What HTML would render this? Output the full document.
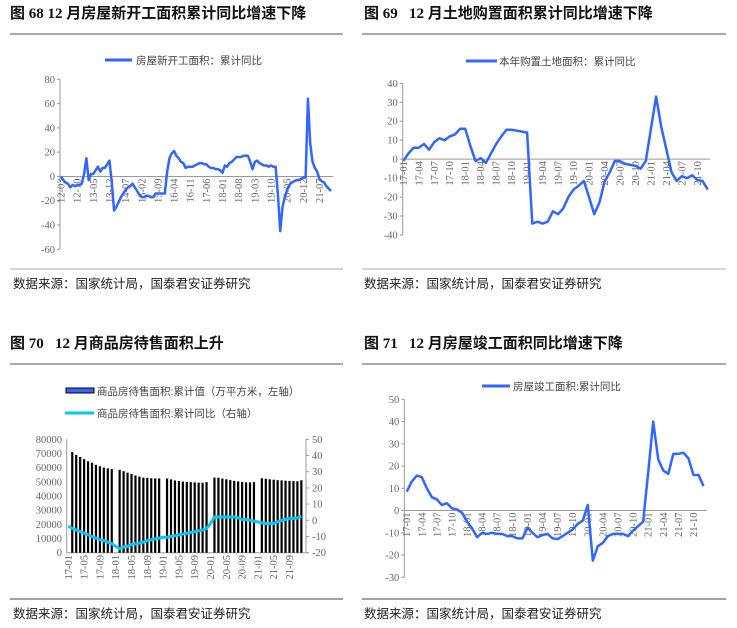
<!DOCTYPE html>
<html><head><meta charset="utf-8"><style>
body{margin:0;background:#fff;width:737px;height:628px;overflow:hidden}
svg{display:block}
.t{font-family:"Liberation Serif","Noto Sans CJK SC",serif;font-weight:bold;font-size:15px;fill:#111}
.s{font-family:"Liberation Sans","Noto Sans CJK SC",sans-serif;font-size:12.5px;fill:#222}
.k{font-family:"Liberation Serif",serif;font-size:10.5px;fill:#666}
.lg{font-family:"Liberation Sans","Noto Sans CJK SC",sans-serif;font-size:10.5px;fill:#444}
</style></head><body>
<svg id="c" width="737" height="628" xmlns="http://www.w3.org/2000/svg">
<text class="t" x="10" y="18">图 68 12 月房屋新开工面积累计同比增速下降</text>
<text class="t" x="364" y="18">图 69 &#160;&#160;12 月土地购置面积累计同比增速下降</text>
<text class="t" x="10" y="348">图 70 &#160;&#160;12 月商品房待售面积上升</text>
<text class="t" x="364" y="348">图 71 &#160;&#160;12 月房屋竣工面积同比增速下降</text>
<line x1="10" y1="34" x2="343" y2="34" stroke="#555"/>
<line x1="362" y1="34" x2="726" y2="34" stroke="#555"/>
<line x1="10" y1="364" x2="343" y2="364" stroke="#555"/>
<line x1="362" y1="364" x2="726" y2="364" stroke="#555"/>
<line x1="10" y1="269" x2="343" y2="269" stroke="#aaa"/>
<line x1="362" y1="269" x2="726" y2="269" stroke="#aaa"/>
<line x1="10" y1="599" x2="343" y2="599" stroke="#444"/>
<line x1="362" y1="599" x2="726" y2="599" stroke="#444"/>
<text class="s" x="13" y="288">数据来源：国家统计局，国泰君安证券研究</text>
<text class="s" x="364" y="288">数据来源：国家统计局，国泰君安证券研究</text>
<text class="s" x="13" y="618">数据来源：国家统计局，国泰君安证券研究</text>
<text class="s" x="364" y="618">数据来源：国家统计局，国泰君安证券研究</text>
<line x1="105" y1="60" x2="132" y2="60" stroke="#3366ff" stroke-width="3"/>
<text class="lg" x="136" y="64">房屋新开工面积：累计同比</text>
<line x1="466" y1="61" x2="497" y2="61" stroke="#3366ff" stroke-width="3"/>
<text class="lg" x="499" y="65">本年购置土地面积：累计同比</text>
<rect x="66" y="388" width="28" height="5" fill="#3366ff" stroke="#000"/>
<text class="lg" x="97" y="395">商品房待售面积:累计值（万平方米，左轴）</text>
<line x1="65" y1="413" x2="94" y2="413" stroke="#00c8ff" stroke-width="3"/>
<text class="lg" x="97" y="417">商品房待售面积:累计同比（右轴）</text>
<line x1="482" y1="386" x2="510" y2="386" stroke="#3366ff" stroke-width="3"/>
<text class="lg" x="513" y="390">房屋竣工面积:累计同比</text>
<g id="g"></g>
</svg>
<script>
const c1Values=[0,-3,-5,-6,-9,-7,-8,-7,-7,-6,2,15,-3,2,2,5,8,4,7,7,10,13,-5,-28,-25,-21,-17,-14,-11,-9,-8,-6,-9,-12,-15,-17,-17,-16,-16,-17,-17,-14,-14,-14,-14,-14,4,15,19,21,17,15,12,11,7,8,8,8,9,10,11,11,10,10,8,7,7,6,6,5,3,9,8,11,12,14,16,16,16,17,17,17,12,6,12,13,11,10,9,9,8,9,8,8,-15,-45,-25,-17,-11,-7,-5,-4,-3,-3,-2,-1,-1,64,27,12,7,4,-2,-4,-5,-8,-10,-12];
const c1Ticks=[-60,-40,-20,0,20,40,60,80];
const c2Values=[-1,3,6,6,8,5,9,11,10,12,13,16,16,7,-1,0.5,-2,3,8,12,15.5,15.5,15,14.5,14,-34,-33,-34,-33,-27.5,-29,-26,-20,-16,-14,-11.5,-20,-29,-23,-12,-7,-1,-1,-2.5,-3,-3.5,-5,-1,16,33,17,5,-7,-11.5,-9,-10,-8.5,-11,-11.5,-16];
const c2Ticks=[-40,-30,-20,-10,0,10,20,30,40];
const c3Bars=[null,71000,69000,67500,66000,64500,63500,62000,61000,60000,59500,59000,
null,58500,57500,56500,55500,54500,53700,53000,52800,52500,52400,52400,
null,52300,51700,51000,50500,50200,50000,49800,49600,49400,49400,49800,
null,53000,52900,52300,51800,51200,50700,50300,49900,49600,49600,49900,
null,52500,52200,51800,51500,51200,51000,50800,50600,50500,50400,51100];
const c3Yoy=[-3.5,-5,-6,-7,-8,-9,-10,-11,-12,-12.5,-13.5,-14.5,-16,-17.5,-16.5,-16,-15,-14.5,-14,-13.5,-12.5,-12,-11.5,-11,-10.5,-10.5,-10,-9.5,-9,-8.5,-8,-7.5,-7,-6.5,-6,-5,-2,2,2,2,2,2,2,1.5,0.5,0.5,0,-0.5,-1,-1.5,-2,-2,-2,-1,0,0.5,1,1.2,1.5,2.5];
const c3LeftTicks=[0,10000,20000,30000,40000,50000,60000,70000,80000];
const c3RightTicks=[-20,-10,0,10,20,30,40,50];
const c4Values=[8.5,13,15.7,15,10,6,5,2.5,3.3,1,0.5,-1,-5,-8,-12,-10,-10.5,-10,-10.5,-10.5,-11.5,-11.5,-12.5,-12.5,-7.7,-10,-12,-11,-10.5,-12.5,-12.8,-11.5,-10,-8.5,-6,-4.5,2.5,-22.5,-16,-14.5,-11.5,-10.5,-10.5,-10.5,-11.5,-9,-7,-5,17,40,23,18,16.5,25.5,25.5,26,23.5,16,16,11];
const c4Ticks=[-30,-20,-10,0,10,20,30,40,50];

const NS="http://www.w3.org/2000/svg";
const G=document.getElementById('g');
function mk(tag,attrs,txt){const e=document.createElementNS(NS,tag);for(const k in attrs)e.setAttribute(k,attrs[k]);if(txt!==undefined)e.textContent=txt;G.appendChild(e);return e;}
function lab(y,m){return String(y%100).padStart(2,'0')+'-'+String(m).padStart(2,'0');}
function catLabel(startY,startM,i){let m=startM-1+i;return lab(startY+Math.floor(m/12),m%12+1);}
function lin(d0,d1,p0,p1){return v=>p0+(v-d0)/(d1-d0)*(p1-p0);}

function lineChart(vals,ticks,yTop,yBot,x0,x1,ax0,ax1,startY,startM,every,name){
  const ys=lin(ticks[ticks.length-1],ticks[0],yTop,yBot);
  const xs=i=>x0+i*(x1-x0)/(vals.length-1);
  let e=mk('line',{x1:ax0,y1:yTop,x2:ax0,y2:yBot,stroke:'#999'});
  
  
  ticks.forEach(t=>{
    const tl=mk('line',{x1:ax0-3,y1:ys(t),x2:ax0,y2:ys(t),stroke:'#999'});
    
    
    const tt=mk('text',{class:'k',x:ax0-5,y:ys(t)+3.5,'text-anchor':'end'},String(t));
    
    
  });
  const z=ys(0);
  e=mk('line',{x1:ax0,y1:z,x2:ax1,y2:z,stroke:'#999'});
  
  
  for(let i=0;i<vals.length;i+=every){
    const t=mk('text',{class:'k',transform:`translate(${xs(i)+3.5},${z+2}) rotate(-90)`,'text-anchor':'end'},catLabel(startY,startM,i));
    
    
  }
  const p=mk('polyline',{points:vals.map((v,i)=>xs(i)+','+ys(v)).join(' '),fill:'none',stroke:'#3366ff','stroke-width':2.5,'stroke-linejoin':'round'});
  
  
}
lineChart(c1Values,c1Ticks,79.3,249.3,61,331,60,333,2012,3,7,'chart68');
lineChart(c2Values,c2Ticks,83.3,235,403.3,707.7,402.7,710,2017,1,3,'chart69');
lineChart(c4Values,c4Ticks,399.3,577.3,406.7,703.5,404.3,706.7,2017,1,3,'chart71');

(function(){
  const yL=lin(0,80000,552.7,439.3), yR=lin(-20,50,552.7,439.3);
  const xs=i=>68.3+i*3.95;
  let e=mk('line',{x1:66.7,y1:439.3,x2:66.7,y2:552.7,stroke:'#999'});
  
  
  e=mk('line',{x1:306,y1:439.3,x2:306,y2:552.7,stroke:'#999'});
  
  
  e=mk('line',{x1:66.7,y1:552.7,x2:306,y2:552.7,stroke:'#999'});
  
  
  c3LeftTicks.forEach(t=>{
    const tt=mk('text',{class:'k',x:62,y:yL(t)+3.5,'text-anchor':'end'},String(t));
    
    
  });
  c3RightTicks.forEach(t=>{
    const tl=mk('line',{x1:306,y1:yR(t),x2:309,y2:yR(t),stroke:'#999'});
    
    
    const tt=mk('text',{class:'k',x:312,y:yR(t)+3.5},String(t));
    
    
  });
  c3Bars.forEach((v,i)=>{
    if(v===null)return;
    const b=mk('rect',{x:xs(i)-1.1,y:yL(v),width:2.2,height:552.7-yL(v),fill:'#000'});
    
    
  });
  for(let i=0;i<c3Bars.length;i+=4){
    const t=mk('text',{class:'k',transform:`translate(${xs(i)+3.5},${555}) rotate(-90)`,'text-anchor':'end'},catLabel(2017,1,i));
    
    
  }
  const p=mk('polyline',{points:c3Yoy.map((v,i)=>xs(i)+','+yR(v)).join(' '),fill:'none',stroke:'#00c8ff','stroke-width':3,'stroke-linejoin':'round'});
  
  
})();
</script>
</body></html>
